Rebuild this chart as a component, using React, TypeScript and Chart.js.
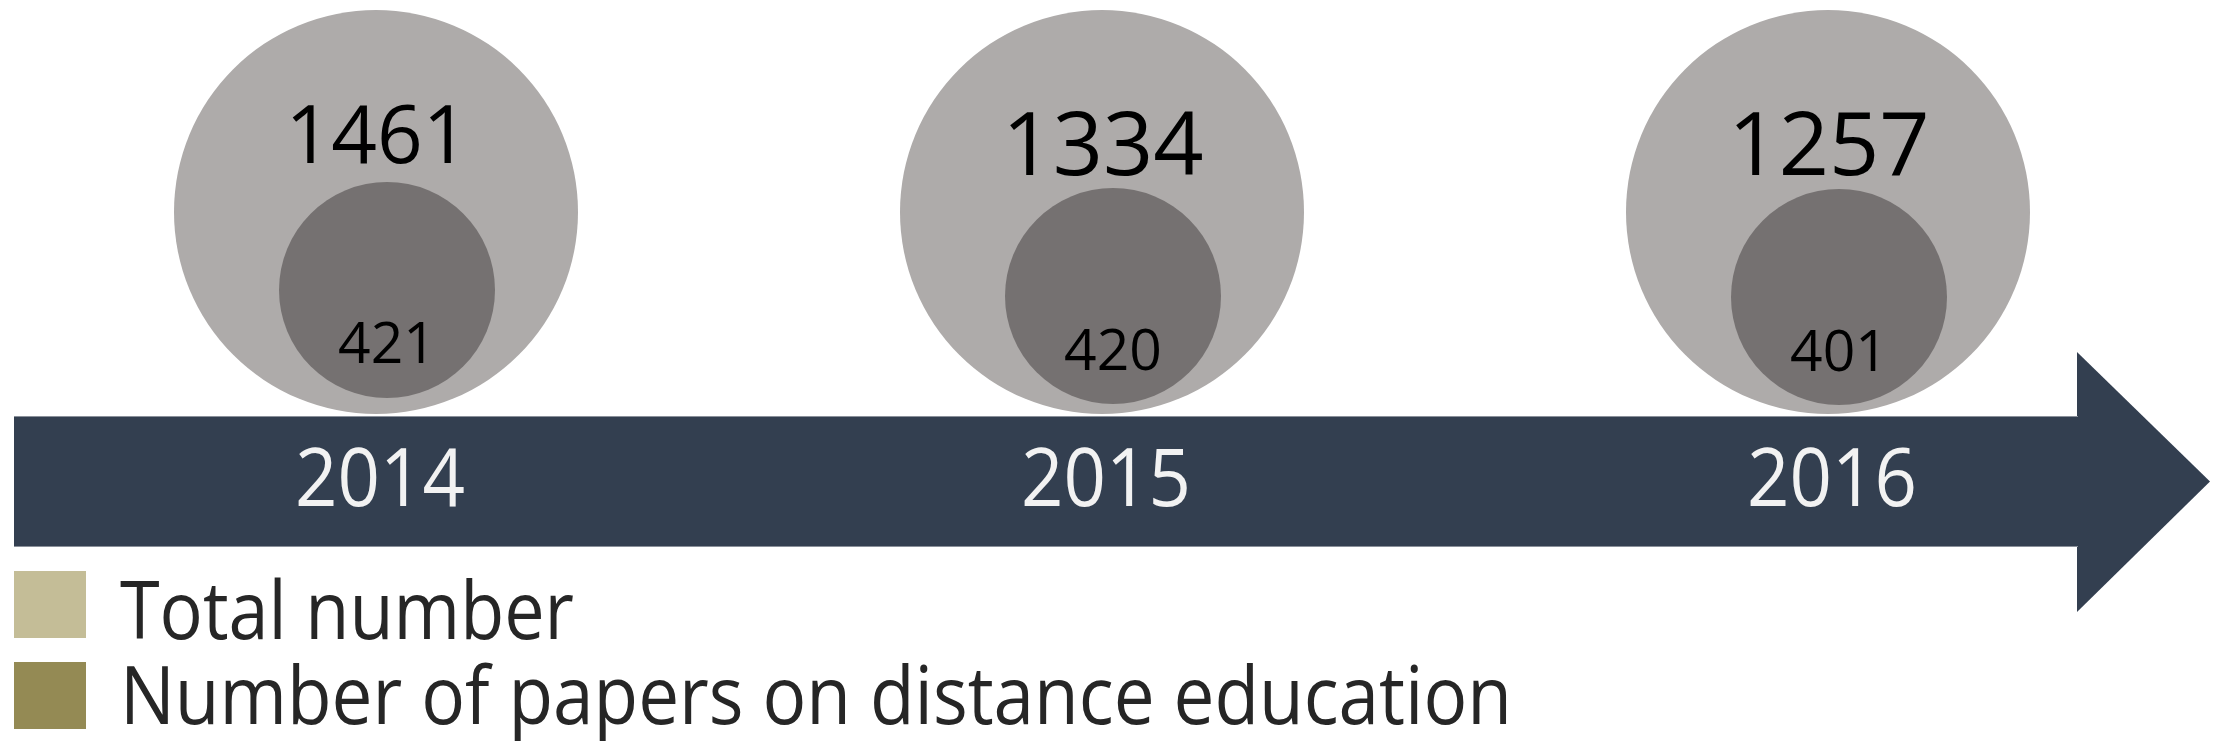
import React, { useEffect, useRef } from "react";
import { Chart, registerables } from "chart.js";

Chart.register(...registerables);

// ---------- data ----------
const years = ["2014", "2015", "2016"];
const totalPapers = [1461, 1334, 1257];
const distancePapers = [421, 420, 401];
const legendLabels = ["Total number", "Number of papers on distance education"];

// ---------- layout / style ----------
const W = 2219;
const H = 741;
const X0 = 376; // pixel of first category
const STEP = 726; // pixels between categories
const BIG_R = 202;
const SMALL_R = 108;
const BIG_CY = 212;
const SMALL_CY = [290, 296, 297];
const SMALL_DX = 11;
const BIG_FONT = [80, 88, 88];
const BIG_BASE = [163, 175, 175];
const SMALL_FONT = 57;
const SMALL_BASE = [363, 370, 371];
const YEAR_FONT = 80;
const YEAR_MAXW = 170;
const YEAR_BASE = 506;
const YEAR_DX = 4;
const BAR_LEFT = 14;
const BAR_TOP = 416;
const BAR_BOTTOM = 547;
const HEAD_X = 2078;
const HEAD_TOP = 352;
const HEAD_BOTTOM = 612;
const TIP_X = 2210;
const LEGEND_BOX_TOP = [571, 662];
const LEGEND_BASE = [639, 724];
const LEGEND_TEXT_MAXW = [454, 1392];
const FONT = "'Segoe UI', 'Open Sans', 'Noto Sans', sans-serif";

const C_BIG = "#aeabaa";
const C_SMALL = "#757171";
const C_BAR = "#333f50";
const C_BAR_EDGE = "#8a909a";
const C_YEAR = "#f2f2f2";
const C_LEGEND = ["#c4bd97", "#948a54"];
const C_LEGEND_TEXT = "#262626";

const arrowPlugin = {
  id: "arrowPlugin",
  beforeDatasetsDraw(chart: any) {
    const ctx = chart.ctx;
    ctx.save();
    ctx.fillStyle = C_BAR;
    ctx.fillRect(BAR_LEFT, BAR_TOP, HEAD_X - BAR_LEFT, BAR_BOTTOM - BAR_TOP);
    ctx.beginPath();
    ctx.moveTo(HEAD_X - 1, HEAD_TOP);
    ctx.lineTo(TIP_X, (BAR_TOP + BAR_BOTTOM) / 2);
    ctx.lineTo(HEAD_X - 1, HEAD_BOTTOM);
    ctx.closePath();
    ctx.fill();
    // thin light edges of the shaft
    ctx.strokeStyle = C_BAR_EDGE;
    ctx.lineWidth = 1;
    ctx.beginPath();
    ctx.moveTo(BAR_LEFT, BAR_TOP + 0.5);
    ctx.lineTo(HEAD_X, BAR_TOP + 0.5);
    ctx.moveTo(BAR_LEFT, BAR_BOTTOM - 0.5);
    ctx.lineTo(HEAD_X, BAR_BOTTOM - 0.5);
    ctx.stroke();
    // year labels
    const xs = chart.scales.x;
    ctx.fillStyle = C_YEAR;
    ctx.font = `${YEAR_FONT}px ${FONT}`;
    ctx.textAlign = "center";
    ctx.textBaseline = "alphabetic";
    years.forEach((y, i) => {
      ctx.fillText(y, xs.getPixelForValue(i) + YEAR_DX, YEAR_BASE, YEAR_MAXW);
    });
    ctx.restore();
  },
};

const labelPlugin = {
  id: "labelPlugin",
  afterDatasetsDraw(chart: any) {
    const ctx = chart.ctx;
    ctx.save();
    ctx.fillStyle = "#000000";
    ctx.textAlign = "center";
    ctx.textBaseline = "alphabetic";
    const bigMeta = chart.getDatasetMeta(1);
    const smallMeta = chart.getDatasetMeta(0);
    totalPapers.forEach((v, i) => {
      const el = bigMeta.data[i];
      ctx.font = `${BIG_FONT[i]}px ${FONT}`;
      ctx.fillText(String(v), el.x + 1, BIG_BASE[i]);
    });
    distancePapers.forEach((v, i) => {
      const el = smallMeta.data[i];
      ctx.font = `${SMALL_FONT}px ${FONT}`;
      ctx.fillText(String(v), el.x, SMALL_BASE[i]);
    });
    ctx.restore();
  },
};

const legendPlugin = {
  id: "legendPlugin",
  afterDraw(chart: any) {
    const ctx = chart.ctx;
    ctx.save();
    legendLabels.forEach((label, i) => {
      ctx.fillStyle = C_LEGEND[i];
      ctx.fillRect(14, LEGEND_BOX_TOP[i], 72, 67);
      ctx.fillStyle = C_LEGEND_TEXT;
      ctx.font = `80px ${FONT}`;
      ctx.textAlign = "left";
      ctx.textBaseline = "alphabetic";
      ctx.fillText(label, 120, LEGEND_BASE[i], LEGEND_TEXT_MAXW[i]);
    });
    ctx.restore();
  },
};

export default function App() {
  const ref = useRef<HTMLCanvasElement | null>(null);

  useEffect(() => {
    if (!ref.current) return;
    const chart = new Chart(ref.current, {
      type: "bubble",
      data: {
        datasets: [
          {
            label: legendLabels[1],
            data: distancePapers.map((v, i) => ({
              x: i + SMALL_DX / STEP,
              y: SMALL_CY[i],
              r: SMALL_R,
              v,
            })) as any,
            backgroundColor: C_SMALL,
            borderWidth: 0,
          },
          {
            label: legendLabels[0],
            data: totalPapers.map((v, i) => ({
              x: i,
              y: BIG_CY,
              r: BIG_R,
              v,
            })) as any,
            backgroundColor: C_BIG,
            borderWidth: 0,
          },
        ],
      },
      options: {
        responsive: false,
        animation: false,
        events: [],
        layout: { padding: 0, autoPadding: false },
        plugins: {
          legend: { display: false },
          tooltip: { enabled: false },
        },
        scales: {
          x: {
            type: "linear",
            display: false,
            min: -X0 / STEP,
            max: (W - X0) / STEP,
          },
          y: {
            type: "linear",
            display: false,
            reverse: true,
            min: 0,
            max: H,
          },
        },
      },
      plugins: [arrowPlugin, labelPlugin, legendPlugin],
    });
    return () => chart.destroy();
  }, []);

  return (
    <div style={{ position: "absolute", left: 0, top: 0, width: W, height: H, background: "#ffffff" }}>
      <canvas ref={ref} width={W} height={H} style={{ display: "block" }} />
    </div>
  );
}
